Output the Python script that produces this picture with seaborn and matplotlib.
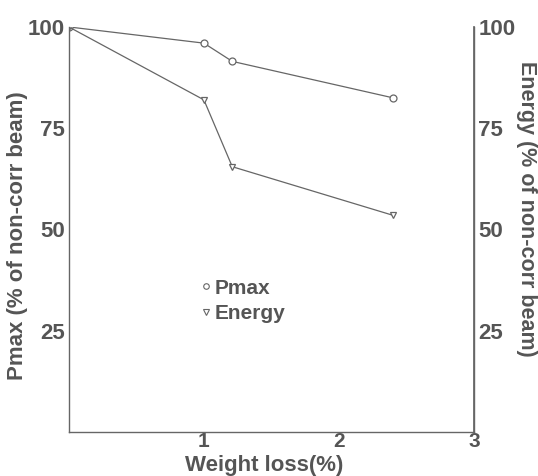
import matplotlib
matplotlib.use("Agg")
import matplotlib.pyplot as plt
import seaborn as sns
import pandas as pd
from matplotlib.lines import Line2D

sns.set_theme(style="white")
plt.rcParams['font.family'] = ['Liberation Sans', 'DejaVu Sans']

weight_loss = [0.0, 1.0, 1.21, 2.4]
pmax = [100, 96.0, 91.5, 82.5]
energy = [100, 82.0, 65.5, 53.5]
yticks = [25, 50, 75, 100]
xticks = [1, 2, 3]

gray = "#555555"
line_gray = "#666666"

fig = plt.figure(figsize=(5.38, 4.76), dpi=100)
ax = fig.add_axes([0.128, 0.0924, 0.753, 0.851])

df_p = pd.DataFrame({"x": weight_loss, "y": pmax})
df_e = pd.DataFrame({"x": weight_loss, "y": energy})
sns.lineplot(data=df_p, x="x", y="y", ax=ax, color=line_gray, lw=0.9,
             marker="o", markersize=5, markerfacecolor="white",
             markeredgecolor=line_gray, markeredgewidth=0.9)
sns.lineplot(data=df_e, x="x", y="y", ax=ax, color=line_gray, lw=0.9,
             marker="v", markersize=5, markerfacecolor="white",
             markeredgecolor=line_gray, markeredgewidth=0.9)

ax.set_xlim(0, 3)
ax.set_ylim(0, 100)
ax.set_xticks(xticks)
ax.set_yticks(yticks)
ax.tick_params(axis="both", length=0, labelcolor=gray)
ax.tick_params(axis="x", pad=0, labelsize=15)
ax.tick_params(axis="y", pad=3, labelsize=16)
for lab in ax.get_xticklabels() + ax.get_yticklabels():
    lab.set_fontweight("bold")
ax.set_xlabel("Weight loss(%)", fontsize=16, fontweight="bold", color=gray)
ax.xaxis.set_label_coords(0.481, -0.056)
ax.set_ylabel("Pmax (% of non-corr beam)", fontsize=16, fontweight="bold",
              color=gray, va="center")
ax.yaxis.set_label_coords(-0.127, 0.484)

ax.spines["top"].set_visible(False)
for side in ["left", "bottom", "right"]:
    ax.spines[side].set_color(line_gray)
    ax.spines[side].set_linewidth(1.0)

ax2 = ax.twinx()
ax2.set_ylim(0, 100)
ax2.set_yticks(yticks)
ax2.tick_params(axis="y", length=0, pad=3, labelsize=16, labelcolor=gray)
for lab in ax2.get_yticklabels():
    lab.set_fontweight("bold")
ax2.set_ylabel("Energy (% of non-corr beam)", fontsize=15.5, fontweight="bold",
               color=gray, rotation=-90, va="center")
ax2.yaxis.set_label_coords(1.13, 0.55)
ax2.spines["top"].set_visible(False)
ax2.spines["left"].set_visible(False)
ax2.spines["bottom"].set_visible(False)
ax2.spines["right"].set_color(line_gray)

handles = [
    Line2D([], [], ls="none", marker="o", markersize=4, markerfacecolor="white",
           markeredgecolor=line_gray, markeredgewidth=0.8, label="Pmax"),
    Line2D([], [], ls="none", marker="v", markersize=4, markerfacecolor="white",
           markeredgecolor=line_gray, markeredgewidth=0.8, label="Energy"),
]
leg = ax.legend(handles=handles, loc="upper left", bbox_to_anchor=(0.28, 0.425),
                frameon=False, handlelength=0.5, handletextpad=0.15,
                labelspacing=0.3, prop={"size": 15, "weight": "bold"})
for t in leg.get_texts():
    t.set_color(gray)

fig.savefig("out.png", dpi=100)
